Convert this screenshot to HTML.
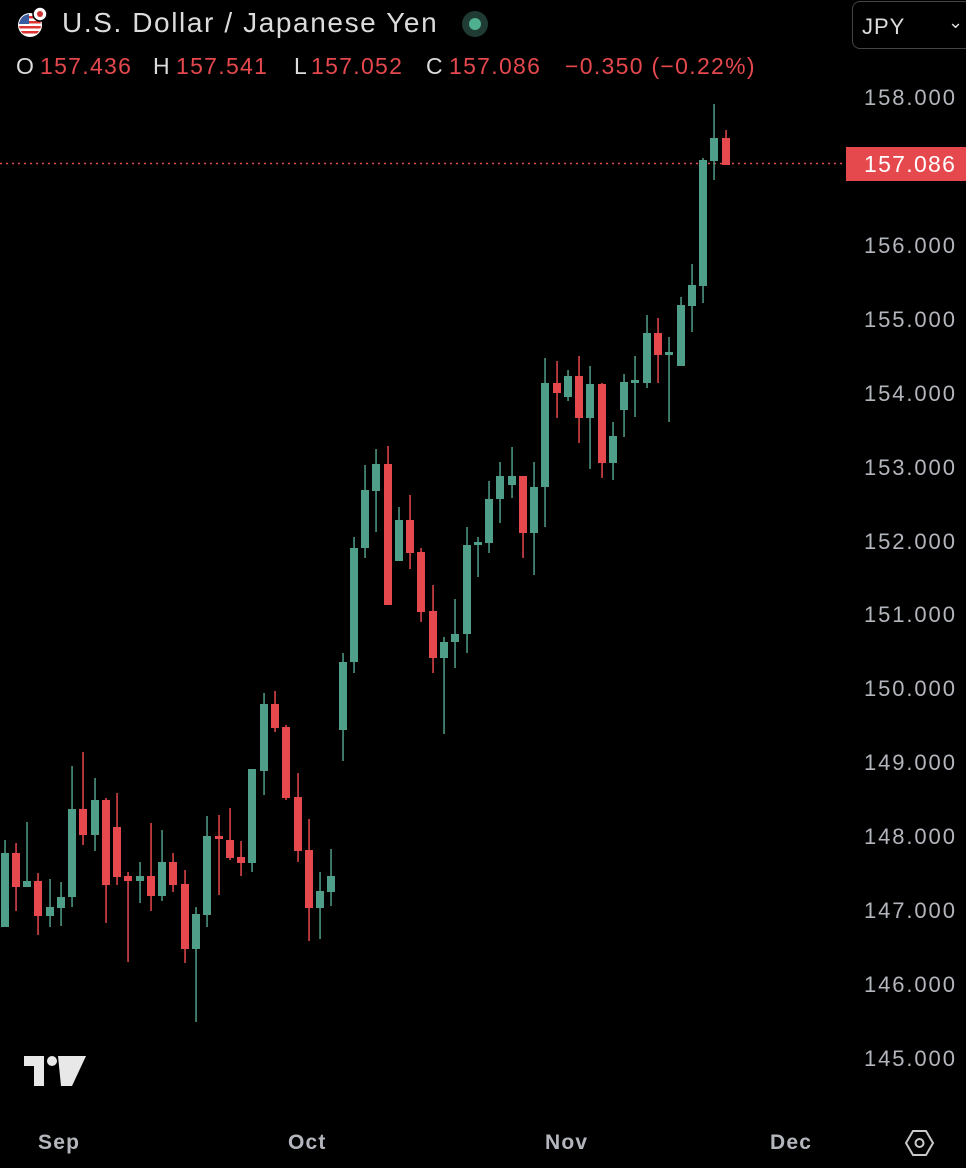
<!DOCTYPE html>
<html><head><meta charset="utf-8"><style>
html,body{margin:0;padding:0;background:#000;}
body{width:966px;height:1168px;position:relative;overflow:hidden;font-family:"Liberation Sans",sans-serif;}
.t{position:absolute;white-space:nowrap;}
.pl{position:absolute;left:864px;color:#b4b6bd;font-size:22px;letter-spacing:1.9px;}
.xl{position:absolute;top:1131px;color:#b4b6bd;font-size:21px;font-weight:bold;letter-spacing:1.2px;}
.o{position:absolute;top:53px;font-size:23px;color:#dcdcdc;letter-spacing:1.3px;white-space:nowrap;}
.r{color:#e5484d;}
</style></head><body>
<svg width="966" height="1168" style="position:absolute;left:0;top:0">
<line x1="0" y1="163.5" x2="846" y2="163.5" stroke="#e5484d" stroke-width="1.5" stroke-dasharray="2,4"/>
<g fill="#4f9e8a">
<rect x="4.3" y="840" width="1.5" height="87"/><rect x="1" y="853" width="8" height="74"/>
<rect x="26.3" y="822" width="1.5" height="65"/><rect x="23" y="881" width="8" height="6"/>
<rect x="49.3" y="879" width="1.5" height="48"/><rect x="46" y="907" width="8" height="9"/>
<rect x="60.3" y="882" width="1.5" height="44"/><rect x="57" y="897" width="8" height="11"/>
<rect x="71.3" y="766" width="1.5" height="141"/><rect x="68" y="809" width="8" height="88"/>
<rect x="94.3" y="778" width="1.5" height="73"/><rect x="91" y="800" width="8" height="35"/>
<rect x="139.3" y="862" width="1.5" height="41"/><rect x="136" y="876" width="8" height="5"/>
<rect x="161.3" y="830" width="1.5" height="71"/><rect x="158" y="862" width="8" height="34"/>
<rect x="195.3" y="907" width="1.5" height="115"/><rect x="192" y="914" width="8" height="35"/>
<rect x="206.3" y="816" width="1.5" height="111"/><rect x="203" y="836" width="8" height="79"/>
<rect x="251.3" y="769" width="1.5" height="103"/><rect x="248" y="769" width="8" height="94"/>
<rect x="263.3" y="693" width="1.5" height="102"/><rect x="260" y="704" width="8" height="67"/>
<rect x="319.3" y="872" width="1.5" height="67"/><rect x="316" y="891" width="8" height="17"/>
<rect x="330.3" y="849" width="1.5" height="57"/><rect x="327" y="876" width="8" height="16"/>
<rect x="342.3" y="653" width="1.5" height="108"/><rect x="339" y="662" width="8" height="68"/>
<rect x="353.3" y="537" width="1.5" height="136"/><rect x="350" y="548" width="8" height="114"/>
<rect x="364.3" y="465" width="1.5" height="93"/><rect x="361" y="490" width="8" height="58"/>
<rect x="375.3" y="449" width="1.5" height="83"/><rect x="372" y="464" width="8" height="27"/>
<rect x="398.3" y="507" width="1.5" height="54"/><rect x="395" y="520" width="8" height="41"/>
<rect x="443.3" y="637" width="1.5" height="97"/><rect x="440" y="642" width="8" height="16"/>
<rect x="454.3" y="599" width="1.5" height="69"/><rect x="451" y="634" width="8" height="8"/>
<rect x="466.3" y="527" width="1.5" height="126"/><rect x="463" y="545" width="8" height="89"/>
<rect x="477.3" y="537" width="1.5" height="40"/><rect x="474" y="542" width="8" height="3"/>
<rect x="488.3" y="481" width="1.5" height="72"/><rect x="485" y="499" width="8" height="44"/>
<rect x="499.3" y="462" width="1.5" height="61"/><rect x="496" y="476" width="8" height="23"/>
<rect x="511.3" y="447" width="1.5" height="51"/><rect x="508" y="476" width="8" height="9"/>
<rect x="533.3" y="462" width="1.5" height="113"/><rect x="530" y="487" width="8" height="46"/>
<rect x="544.3" y="358" width="1.5" height="169"/><rect x="541" y="383" width="8" height="104"/>
<rect x="567.3" y="370" width="1.5" height="31"/><rect x="564" y="376" width="8" height="21"/>
<rect x="589.3" y="366" width="1.5" height="103"/><rect x="586" y="384" width="8" height="34"/>
<rect x="612.3" y="422" width="1.5" height="58"/><rect x="609" y="436" width="8" height="27"/>
<rect x="623.3" y="374" width="1.5" height="63"/><rect x="620" y="382" width="8" height="28"/>
<rect x="634.3" y="356" width="1.5" height="61"/><rect x="631" y="380" width="8" height="3"/>
<rect x="646.3" y="315" width="1.5" height="73"/><rect x="643" y="333" width="8" height="50"/>
<rect x="668.3" y="337" width="1.5" height="85"/><rect x="665" y="352" width="8" height="3"/>
<rect x="680.3" y="297" width="1.5" height="69"/><rect x="677" y="305" width="8" height="61"/>
<rect x="691.3" y="264" width="1.5" height="68"/><rect x="688" y="285" width="8" height="21"/>
<rect x="702.3" y="158" width="1.5" height="145"/><rect x="699" y="160" width="8" height="126"/>
<rect x="713.3" y="104" width="1.5" height="76"/><rect x="710" y="138" width="8" height="23"/>
</g>
<g fill="#e5484d">
<rect x="15.3" y="843" width="1.5" height="68"/><rect x="12" y="853" width="8" height="34"/>
<rect x="37.3" y="873" width="1.5" height="62"/><rect x="34" y="881" width="8" height="35"/>
<rect x="82.3" y="752" width="1.5" height="93"/><rect x="79" y="809" width="8" height="26"/>
<rect x="105.3" y="798" width="1.5" height="125"/><rect x="102" y="800" width="8" height="85"/>
<rect x="116.3" y="793" width="1.5" height="92"/><rect x="113" y="827" width="8" height="50"/>
<rect x="127.3" y="872" width="1.5" height="90"/><rect x="124" y="876" width="8" height="5"/>
<rect x="150.3" y="823" width="1.5" height="88"/><rect x="147" y="876" width="8" height="20"/>
<rect x="172.3" y="853" width="1.5" height="39"/><rect x="169" y="862" width="8" height="23"/>
<rect x="184.3" y="870" width="1.5" height="93"/><rect x="181" y="884" width="8" height="65"/>
<rect x="218.3" y="815" width="1.5" height="80"/><rect x="215" y="836" width="8" height="3"/>
<rect x="229.3" y="808" width="1.5" height="52"/><rect x="226" y="840" width="8" height="18"/>
<rect x="240.3" y="841" width="1.5" height="35"/><rect x="237" y="857" width="8" height="6"/>
<rect x="274.3" y="691" width="1.5" height="41"/><rect x="271" y="704" width="8" height="24"/>
<rect x="285.3" y="725" width="1.5" height="75"/><rect x="282" y="727" width="8" height="71"/>
<rect x="297.3" y="773" width="1.5" height="89"/><rect x="294" y="797" width="8" height="54"/>
<rect x="308.3" y="819" width="1.5" height="122"/><rect x="305" y="850" width="8" height="58"/>
<rect x="387.3" y="446" width="1.5" height="159"/><rect x="384" y="464" width="8" height="141"/>
<rect x="409.3" y="495" width="1.5" height="74"/><rect x="406" y="520" width="8" height="33"/>
<rect x="420.3" y="548" width="1.5" height="74"/><rect x="417" y="552" width="8" height="60"/>
<rect x="432.3" y="585" width="1.5" height="88"/><rect x="429" y="611" width="8" height="47"/>
<rect x="522.3" y="476" width="1.5" height="82"/><rect x="519" y="476" width="8" height="57"/>
<rect x="556.3" y="361" width="1.5" height="57"/><rect x="553" y="383" width="8" height="10"/>
<rect x="578.3" y="356" width="1.5" height="87"/><rect x="575" y="376" width="8" height="42"/>
<rect x="601.3" y="383" width="1.5" height="95"/><rect x="598" y="384" width="8" height="79"/>
<rect x="657.3" y="318" width="1.5" height="65"/><rect x="654" y="333" width="8" height="22"/>
<rect x="725.3" y="130" width="1.5" height="35"/><rect x="722" y="138" width="8" height="27"/>
</g>
<g fill="#e8e8e8">
<path d="M24 1056 h20 v30 h-10 v-20 h-10 z"/>
<circle cx="52" cy="1061" r="5"/>
<path d="M58 1056 h28 l-14 30 h-11 z"/>
</g>
<polygon points="906,1143 913,1131 926,1131 933,1143 926,1155 913,1155" fill="none" stroke="#c9c9c9" stroke-width="2"/>
<circle cx="919.5" cy="1143" r="4" fill="none" stroke="#c9c9c9" stroke-width="2"/>
<circle cx="30" cy="25" r="12" fill="#fff"/>
<clipPath id="fc"><circle cx="30" cy="25" r="11"/></clipPath>
<g clip-path="url(#fc)">
<rect x="18" y="14" width="24" height="22" fill="#fff"/>
<rect x="18" y="16" width="24" height="2.5" fill="#d33"/><rect x="18" y="21" width="24" height="2.5" fill="#d33"/><rect x="18" y="26" width="24" height="2.5" fill="#d33"/><rect x="18" y="31" width="24" height="2.5" fill="#d33"/>
<rect x="18" y="14" width="11" height="10" fill="#3a5ba0"/>
</g>
<circle cx="40" cy="14" r="7" fill="#fff" stroke="#000" stroke-width="1.5"/>
<circle cx="40" cy="14" r="3" fill="#c33"/>
<circle cx="475" cy="24" r="13" fill="#1f3b34"/>
<circle cx="475" cy="24" r="6" fill="#4fb08f"/>
</svg>
<div class="t" style="left:62px;top:7px;font-size:28px;color:#dcdcdc;letter-spacing:1.6px;">U.S. Dollar / Japanese Yen</div>
<div class="o" style="left:16px">O</div><div class="o r" style="left:40px">157.436</div>
<div class="o" style="left:153px">H</div><div class="o r" style="left:176px">157.541</div>
<div class="o" style="left:294px">L</div><div class="o r" style="left:311px">157.052</div>
<div class="o" style="left:426px">C</div><div class="o r" style="left:449px">157.086</div>
<div class="o r" style="left:565px">−0.350 (−0.22%)</div>
<div style="position:absolute;left:852px;top:1px;width:120px;height:48px;border:1.5px solid #444;border-radius:8px;box-sizing:border-box;"></div>
<div class="t" style="left:862px;top:14px;font-size:22px;color:#dcdcdc;letter-spacing:1px;">JPY</div>
<div class="t" style="left:948px;top:12px;font-size:18px;color:#dcdcdc;">⌄</div>
<div class="pl" style="top:85px">158.000</div>
<div class="pl" style="top:233px">156.000</div>
<div class="pl" style="top:307px">155.000</div>
<div class="pl" style="top:381px">154.000</div>
<div class="pl" style="top:455px">153.000</div>
<div class="pl" style="top:529px">152.000</div>
<div class="pl" style="top:602px">151.000</div>
<div class="pl" style="top:676px">150.000</div>
<div class="pl" style="top:750px">149.000</div>
<div class="pl" style="top:824px">148.000</div>
<div class="pl" style="top:898px">147.000</div>
<div class="pl" style="top:972px">146.000</div>
<div class="pl" style="top:1046px">145.000</div>
<div style="position:absolute;left:846px;top:147px;width:120px;height:34px;background:#e5484d;"></div>
<div class="t" style="left:864px;top:151px;font-size:23px;color:#fff;letter-spacing:1.3px;">157.086</div>
<div class="xl" style="left:38px">Sep</div>
<div class="xl" style="left:288px">Oct</div>
<div class="xl" style="left:545px">Nov</div>
<div class="xl" style="left:770px">Dec</div>
</body></html>
